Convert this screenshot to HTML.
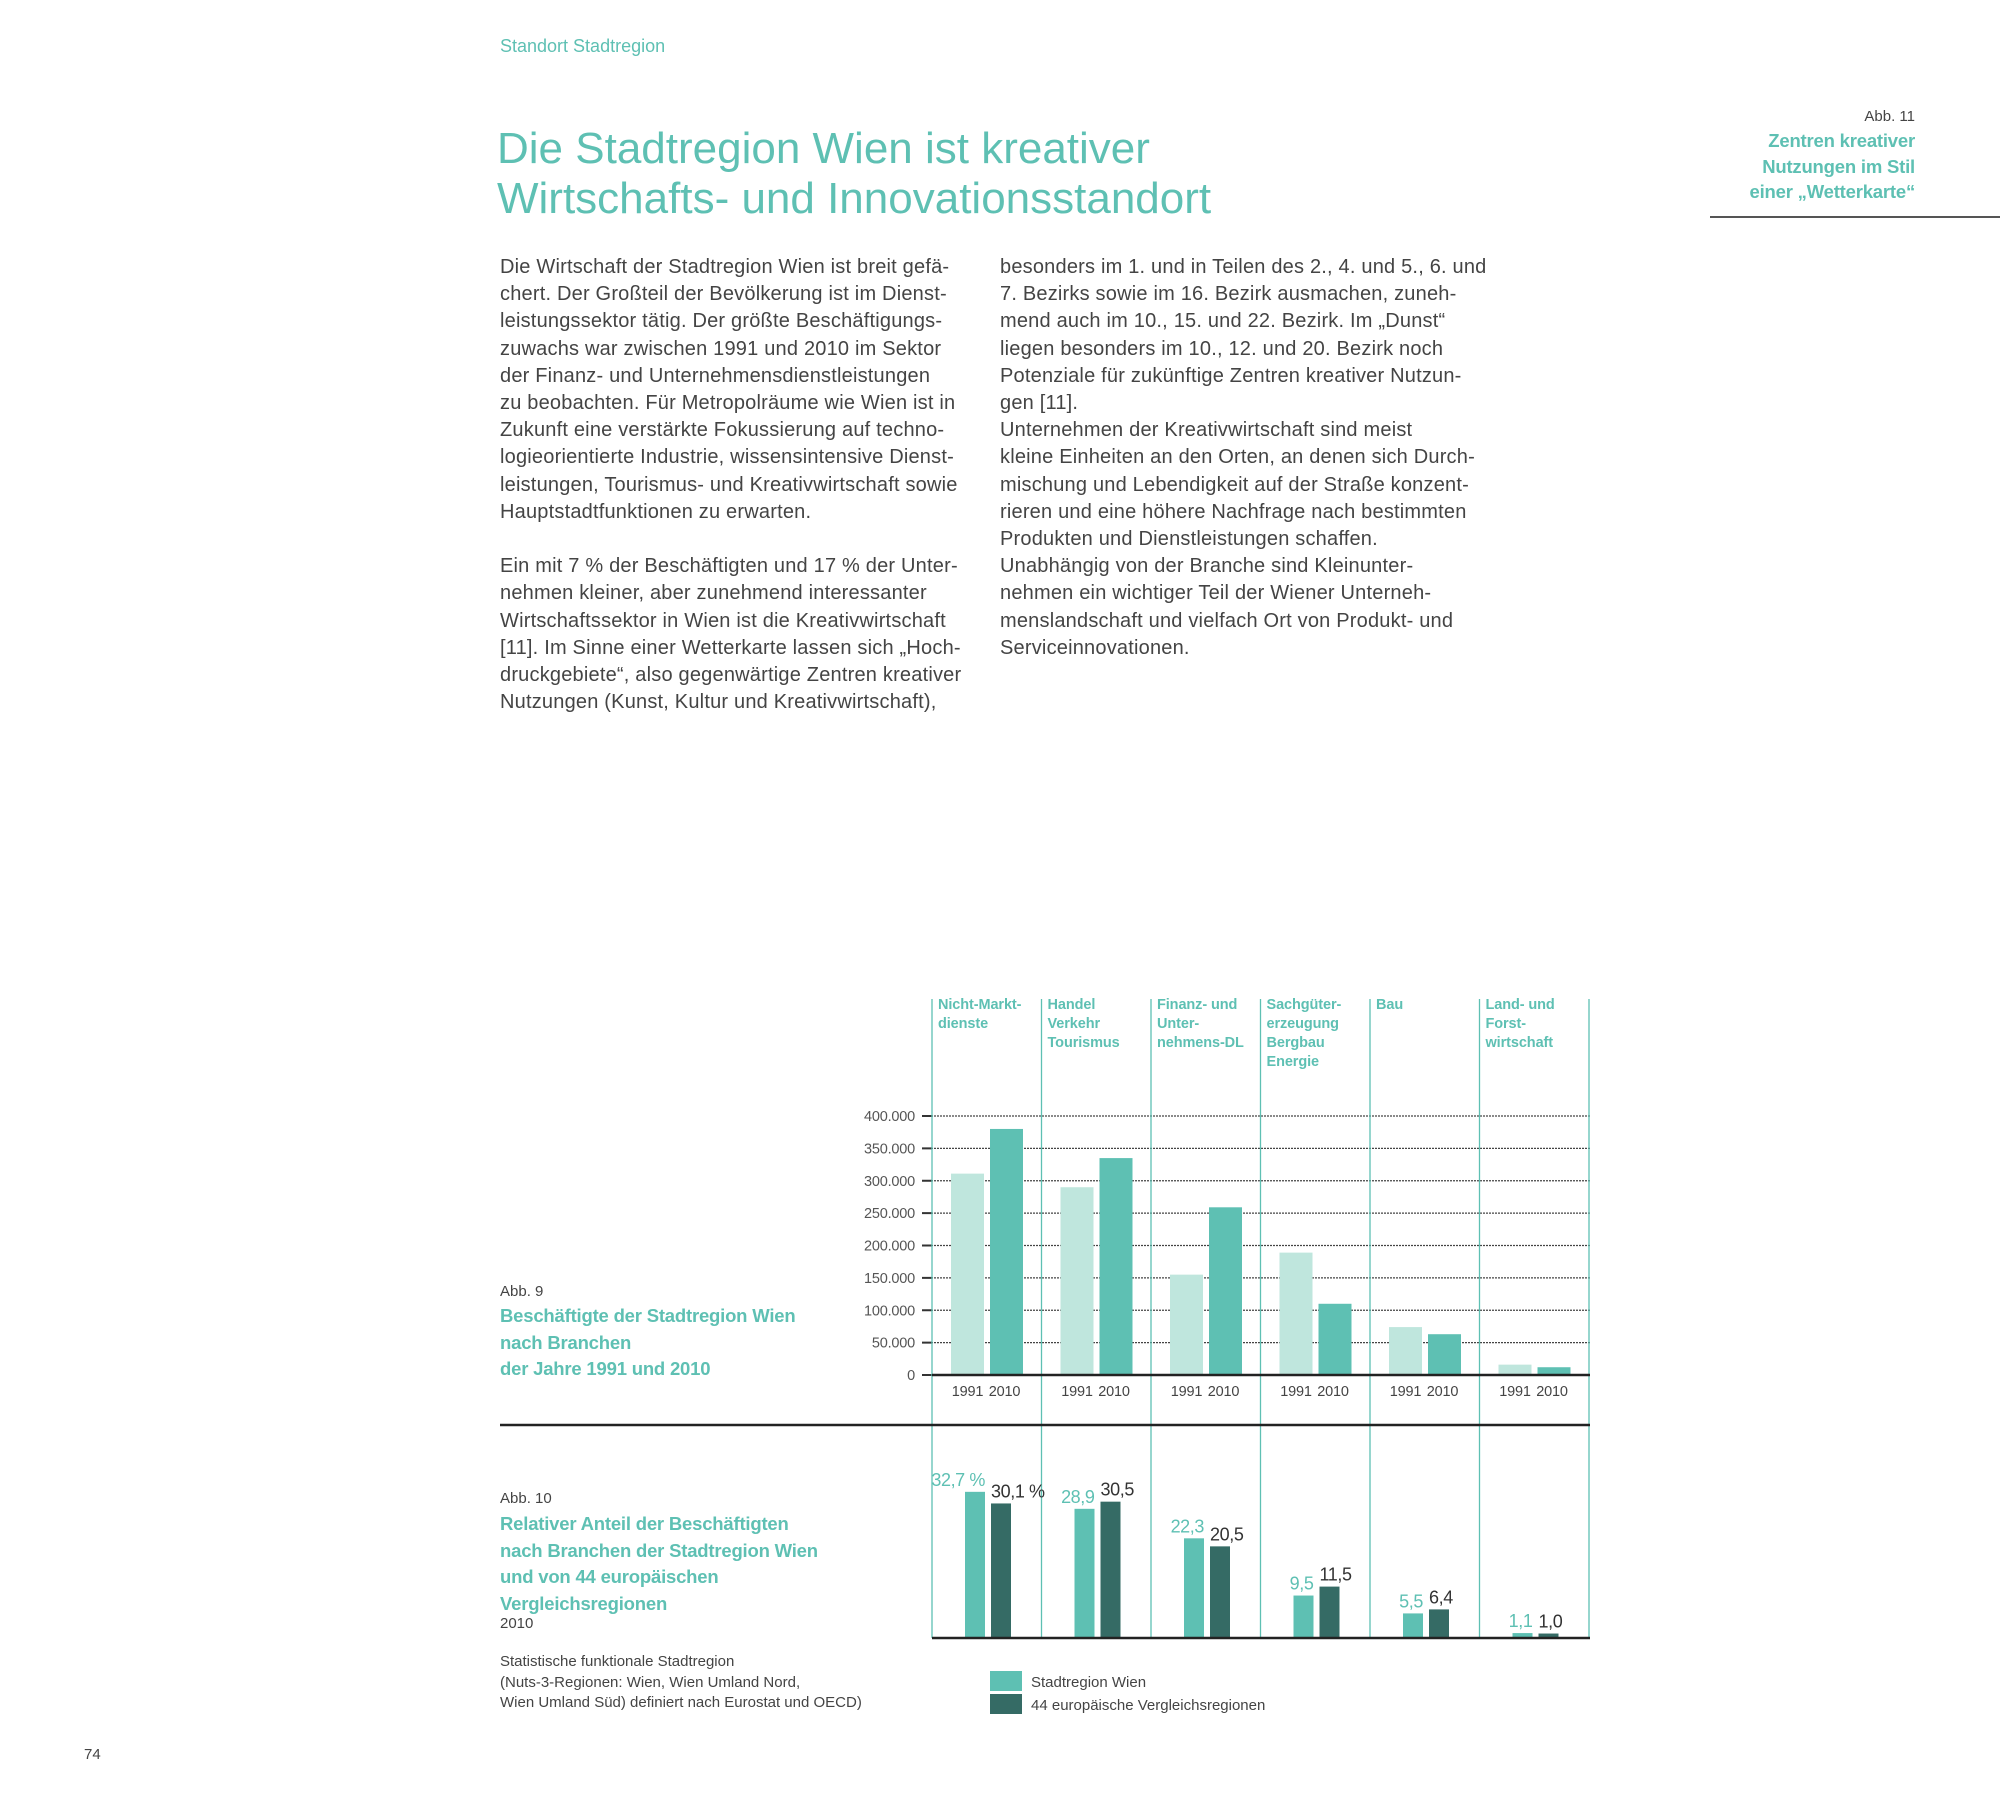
<!DOCTYPE html>
<html><head><meta charset="utf-8">
<style>
html,body{margin:0;padding:0;background:#fff;}
body{width:2000px;height:1806px;position:relative;overflow:hidden;font-family:"Liberation Sans",sans-serif;color:#444;}
.a{position:absolute;white-space:nowrap;}
.teal{color:#5ec0b3;}
.body{font-size:20px;line-height:27.2px;letter-spacing:0.2px;color:#444;}
.cap{font-size:18.5px;line-height:26.5px;font-weight:bold;letter-spacing:-0.2px;color:#5ec0b3;}
.small{font-size:15px;letter-spacing:0;color:#444;}
</style></head>
<body>
<div class="a teal" style="left:500px;top:36px;font-size:18px;">Standort Stadtregion</div>
<div class="a teal" style="left:497px;top:124px;font-size:44px;line-height:50px;letter-spacing:0px;">Die Stadtregion Wien ist kreativer<br>Wirtschafts- und Innovationsstandort</div>

<div class="a body" style="left:500px;top:254px;">Die Wirtschaft der Stadtregion Wien ist breit gefä-<br>chert. Der Großteil der Bevölkerung ist im Dienst-<br>leistungssektor tätig. Der größte Beschäftigungs-<br>zuwachs war zwischen 1991 und 2010 im Sektor<br>der Finanz- und Unternehmensdienstleistungen<br>zu beobachten. Für Metropolräume wie Wien ist in<br>Zukunft eine verstärkte Fokussierung auf techno-<br>logieorientierte Industrie, wissensintensive Dienst-<br>leistungen, Tourismus- und Kreativwirtschaft sowie<br>Hauptstadtfunktionen zu erwarten.<br><br>Ein mit 7 % der Beschäftigten und 17 % der Unter-<br>nehmen kleiner, aber zunehmend interessanter<br>Wirtschaftssektor in Wien ist die Kreativwirtschaft<br>[11]. Im Sinne einer Wetterkarte lassen sich „Hoch-<br>druckgebiete“, also gegenwärtige Zentren kreativer<br>Nutzungen (Kunst, Kultur und Kreativwirtschaft),</div>

<div class="a body" style="left:1000px;top:254px;">besonders im 1. und in Teilen des 2., 4. und 5., 6. und<br>7. Bezirks sowie im 16. Bezirk ausmachen, zuneh-<br>mend auch im 10., 15. und 22. Bezirk. Im „Dunst“<br>liegen besonders im 10., 12. und 20. Bezirk noch<br>Potenziale für zukünftige Zentren kreativer Nutzun-<br>gen [11].<br>Unternehmen der Kreativwirtschaft sind meist<br>kleine Einheiten an den Orten, an denen sich Durch-<br>mischung und Lebendigkeit auf der Straße konzent-<br>rieren und eine höhere Nachfrage nach bestimmten<br>Produkten und Dienstleistungen schaffen.<br>Unabhängig von der Branche sind Kleinunter-<br>nehmen ein wichtiger Teil der Wiener Unterneh-<br>menslandschaft und vielfach Ort von Produkt- und<br>Serviceinnovationen.</div>

<div class="a" style="right:85px;top:106px;text-align:right;">
<div class="small" style="font-size:15px;line-height:22px;">Abb. 11</div>
<div class="cap" style="font-size:18.5px;line-height:25.5px;">Zentren kreativer<br>Nutzungen im Stil<br>einer „Wetterkarte“</div>
</div>
<div class="a" style="left:1710px;top:216px;width:290px;height:2px;background:#555;"></div>

<div class="a small" style="left:500px;top:1283px;font-size:15px;">Abb. 9</div>
<div class="a cap" style="left:500px;top:1303px;">Beschäftigte der Stadtregion Wien<br>nach Branchen<br>der Jahre 1991 und 2010</div>

<div class="a small" style="left:500px;top:1490px;font-size:15px;">Abb. 10</div>
<div class="a cap" style="left:500px;top:1511px;">Relativer Anteil der Beschäftigten<br>nach Branchen der Stadtregion Wien<br>und von 44 europäischen<br>Vergleichsregionen</div>
<div class="a small" style="left:500px;top:1615px;font-size:15px;">2010</div>
<div class="a small" style="left:500px;top:1652px;line-height:20.5px;">Statistische funktionale Stadtregion<br>(Nuts-3-Regionen: Wien, Wien Umland Nord,<br>Wien Umland Süd) definiert nach Eurostat und OECD)</div>

<div class="a small" style="left:84px;top:1746px;">74</div>

<svg class="a" style="left:0;top:0;" width="2000" height="1806" id="chart"></svg>

<script>
const categories=[["Nicht-Markt-","dienste"],["Handel","Verkehr","Tourismus"],["Finanz- und","Unter-","nehmens-DL"],["Sachgüter-","erzeugung","Bergbau","Energie"],["Bau"],["Land- und","Forst-","wirtschaft"]];
const years=["1991","2010"];
const emp1991=[311000,290000,155000,189000,74000,16000];
const emp2010=[380000,335000,259000,110000,63000,12000];
const yTicks=[0,50000,100000,150000,200000,250000,300000,350000,400000];
const yTickLabels=["0","50.000","100.000","150.000","200.000","250.000","300.000","350.000","400.000"];
const shareWien=[32.7,28.9,22.3,9.5,5.5,1.1];
const shareEU=[30.1,30.5,20.5,11.5,6.4,1.0];
const shareWienLabels=["32,7 %","28,9","22,3","9,5","5,5","1,1"];
const shareEULabels=["30,1 %","30,5","20,5","11,5","6,4","1,0"];
const legendLabels=["Stadtregion Wien","44 europäische Vergleichsregionen"];

const svg=document.getElementById('chart');
const NS="http://www.w3.org/2000/svg";
const X0=932, GW=109.5;
const gx=i=>X0+i*GW;
const y1=v=>1375-v/400000*259;
const y2=v=>1638-v*4.47;
function mk(tag,attrs,txt){const e=document.createElementNS(NS,tag);for(const k in attrs)e.setAttribute(k,attrs[k]);if(txt!==undefined)e.textContent=txt;svg.appendChild(e);return e;}
const F='"Liberation Sans",sans-serif';

yTicks.forEach((t,i)=>{
  if(t>0){const g=mk('line',{x1:922,x2:1590,y1:y1(t),y2:y1(t),stroke:'#444','stroke-width':1.2,'stroke-dasharray':'2,1'});
  
  }
  const tk=mk('line',{x1:922,x2:932,y1:y1(t),y2:y1(t),stroke:'#333','stroke-width':2});
  
  
  const l=mk('text',{x:915,y:y1(t)+5,'text-anchor':'end','font-family':F,'font-size':14.5,fill:'#555','letter-spacing':'-0.2'},yTickLabels[i]);
  
  
});
for(let i=0;i<=categories.length;i++){
  const v=mk('line',{x1:gx(i),x2:gx(i),y1:999,y2:1638,stroke:'#5ec0b3','stroke-width':1.3});
  
  
}
categories.forEach((c,i)=>{
  c.forEach((line,j)=>{
    const t=mk('text',{x:gx(i)+6,y:1009+j*19,'font-family':F,'font-size':14.5,'font-weight':'bold',fill:'#5ec0b3','letter-spacing':'-0.1'},line);
    
    
  });
});
categories.forEach((c,i)=>{
  const b1=mk('rect',{x:gx(i)+19,y:y1(emp1991[i]),width:33,height:1375-y1(emp1991[i]),fill:'#bfe6dd'});
  
  
  const b2=mk('rect',{x:gx(i)+58,y:y1(emp2010[i]),width:33,height:1375-y1(emp2010[i]),fill:'#5ec0b3'});
  
  
  years.forEach((yr,k)=>{
    const t=mk('text',{x:gx(i)+35.5+k*37,y:1396,'text-anchor':'middle','font-family':F,'font-size':14.5,fill:'#444','letter-spacing':'-0.2'},yr);
    
    
  });
});
let ax=mk('line',{x1:932,x2:1590,y1:1375,y2:1375,stroke:'#222','stroke-width':2.5});


let sep=mk('line',{x1:500,x2:1590,y1:1425,y2:1425,stroke:'#222','stroke-width':2.5});



categories.forEach((c,i)=>{
  const b1=mk('rect',{x:gx(i)+33,y:y2(shareWien[i]),width:20,height:1638-y2(shareWien[i]),fill:'#5ec0b3'});
  
  
  const b2=mk('rect',{x:gx(i)+59,y:y2(shareEU[i]),width:20,height:1638-y2(shareEU[i]),fill:'#356b65'});
  
  
  const l1=mk('text',{x:gx(i)+53,y:y2(shareWien[i])-6,'text-anchor':'end','font-family':F,'font-size':18,fill:'#5ec0b3','letter-spacing':'-0.4'},shareWienLabels[i]);
  
  
  const l2=mk('text',{x:gx(i)+59,y:y2(shareEU[i])-6,'font-family':F,'font-size':18,fill:'#333','letter-spacing':'-0.4'},shareEULabels[i]);
  
  
});
ax=mk('line',{x1:932,x2:1590,y1:1638,y2:1638,stroke:'#222','stroke-width':2.5});



const legCol=['#5ec0b3','#356b65'];
legendLabels.forEach((l,i)=>{
  const r=mk('rect',{x:990,y:1671+i*23,width:32,height:20,fill:legCol[i]});
  
  
  const t=mk('text',{x:1031,y:1687+i*23,'font-family':F,'font-size':15,fill:'#444'},l);
  
  
});
</script>
</body></html>
